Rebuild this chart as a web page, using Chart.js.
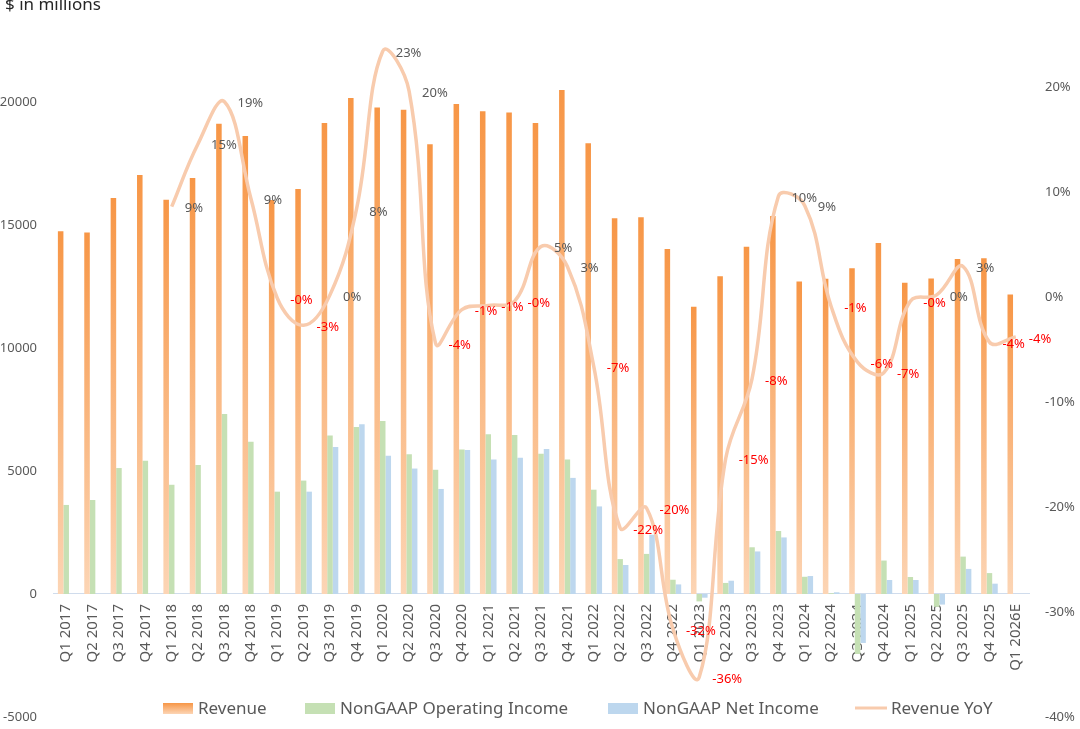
<!DOCTYPE html>
<html>
<head>
<meta charset="utf-8">
<script src="https://cdn.jsdelivr.net/npm/chart.js@4.4.1/dist/chart.umd.min.js"></script>
<style>
  html, body { margin: 0; padding: 0; background: #fff; }
  #wrap { width: 1080px; height: 729px; position: relative; }
</style>
</head>
<body>
<div id="wrap"><canvas id="chart"></canvas></div>
<script>
// 季度
const quarters = [
  'Q1 2017', 'Q2 2017', 'Q3 2017', 'Q4 2017',
  'Q1 2018', 'Q2 2018', 'Q3 2018', 'Q4 2018',
  'Q1 2019', 'Q2 2019', 'Q3 2019', 'Q4 2019',
  'Q1 2020', 'Q2 2020', 'Q3 2020', 'Q4 2020',
  'Q1 2021', 'Q2 2021', 'Q3 2021', 'Q4 2021',
  'Q1 2022', 'Q2 2022', 'Q3 2022', 'Q4 2022',
  'Q1 2023', 'Q2 2023', 'Q3 2023', 'Q4 2023',
  'Q1 2024', 'Q2 2024', 'Q3 2024', 'Q4 2024',
  'Q1 2025', 'Q2 2025', 'Q3 2025', 'Q4 2025',
  'Q1 2026E'
];

// $ in millions
const revenue = [
  14750, 14700, 16100, 17030,
  16030, 16910, 19120, 18620,
  16020, 16460, 19150, 20160,
  19780, 19680, 18280, 19920,
  19620, 19570, 19150, 20490,
  18320, 15270, 15310, 14020,
  11680, 12920, 14120, 15370,
  12700, 12810, 13240, 14270,
  12650, 12830, 13620, 13650,
  12170
];

const opIncome = [
  3620, 3820, 5120, 5420,
  4440, 5240, 7320, 6190,
  4160, 4610, 6440, 6790,
  7030, 5680, 5050, 5870,
  6490, 6460, 5700, 5470,
  4240, 1420, 1630, 580,
  -300, 450, 1900, 2560,
  700, 30, -2440, 1360,
  690, -520, 1520, 850,
  null
];

const netIncome = [
  null, null, null, null,
  null, null, null, null,
  null, 4160, 5980, 6900,
  5620, 5100, 4270, 5850,
  5470, 5540, 5890, 4720,
  3560, 1180, 2410, 390,
  -150, 540, 1730, 2300,
  730, 70, -1990, 570,
  570, -430, 1020, 420,
  null
];

// Revenue YoY, %
const revenueYoY = [
  null, null, null, null,
  8.6, 14.6, 18.6, 9.4,
  -0.1, -2.7, 0.2, 8.3,
  23.4, 19.6, -4.4, -1.2,
  -0.8, -0.4, 4.8, 2.9,
  -6.6, -22.0, -20.1, -31.6,
  -36.2, -15.4, -7.8, 9.6,
  8.7, -0.9, -6.2, -7.2,
  -0.4, 0.2, 2.9, -4.3,
  -3.8
];

const leftTicks = [-5000, 0, 5000, 10000, 15000, 20000];
const rightTicks = [-40, -30, -20, -10, 0, 10, 20];
const seriesNames = ['Revenue', 'NonGAAP Operating Income', 'NonGAAP Net Income', 'Revenue YoY'];

const ORANGE = '#F79646';
const ORANGE_LIGHT = '#FCD5B5';
const GREEN = '#C5E0B4';
const BLUE = '#BDD7EE';
const LINE = '#F8CBAD';
const GREY = '#595959';
const FONT = "'Noto Sans', 'Open Sans', sans-serif";

// 每根柱子自己的渐变
function revenueFill(context) {
  const chart = context.chart;
  if (!chart.chartArea || context.type !== 'data' || context.raw == null) return ORANGE;
  const y = chart.scales.y;
  const top = y.getPixelForValue(context.raw);
  const base = y.getPixelForValue(0);
  const g = chart.ctx.createLinearGradient(0, top, 0, base);
  g.addColorStop(0, ORANGE);
  g.addColorStop(1, ORANGE_LIGHT);
  return g;
}

function pctText(v) {
  const r = Math.round(Math.abs(v));
  return (v < 0 ? '-' : '') + r + '%';
}

// 标题、折线标签、图例
const extras = {
  id: 'extras',
  afterDatasetsDraw(chart) {
    const ctx = chart.ctx;
    const meta = chart.getDatasetMeta(3);
    ctx.save();
    ctx.font = '13px ' + FONT;
    ctx.textAlign = 'left';
    ctx.textBaseline = 'middle';
    meta.data.forEach((pt, i) => {
      const v = revenueYoY[i];
      if (v == null) return;
      ctx.fillStyle = v < 0 ? '#FF0000' : GREY;
      ctx.fillText(pctText(v), pt.x + 13, pt.y + 2);
    });
    ctx.restore();
  },
  afterDraw(chart) {
    const ctx = chart.ctx;
    ctx.save();
    // 左上角单位
    ctx.font = '17px ' + FONT;
    ctx.fillStyle = '#262626';
    ctx.textAlign = 'left';
    ctx.textBaseline = 'alphabetic';
    ctx.fillText('$ in millions', 5, 10);

    // 图例
    const boxX = [163, 305, 608, 855];
    const cy = 708;
    ctx.font = '17px ' + FONT;
    ctx.textBaseline = 'middle';
    seriesNames.forEach((name, i) => {
      const x = boxX[i];
      if (i === 0) {
        const g = ctx.createLinearGradient(0, cy - 5, 0, cy + 6);
        g.addColorStop(0, ORANGE);
        g.addColorStop(1, ORANGE_LIGHT);
        ctx.fillStyle = g;
        ctx.fillRect(x, cy - 5, 30, 11);
      } else if (i === 3) {
        ctx.strokeStyle = LINE;
        ctx.lineWidth = 3;
        ctx.beginPath();
        ctx.moveTo(x, cy);
        ctx.lineTo(x + 32, cy);
        ctx.stroke();
      } else {
        ctx.fillStyle = i === 1 ? GREEN : BLUE;
        ctx.fillRect(x, cy - 5, 30, 11);
      }
      ctx.fillStyle = GREY;
      ctx.fillText(name, x + (i === 3 ? 36 : 35), cy + 1);
    });
    ctx.restore();
  }
};

// 刻度线不画，只用它的长度留出标签间距
const hiddenGrid = { display: false, drawTicks: true, tickLength: 16, tickColor: 'rgba(0,0,0,0)' };

const chart = new Chart(document.getElementById('chart'), {
  type: 'bar',
  data: {
    labels: quarters,
    datasets: [
      {
        label: seriesNames[0],
        data: revenue,
        backgroundColor: revenueFill,
        yAxisID: 'y',
        order: 1,
        categoryPercentage: 0.63,
        barPercentage: 1.0
      },
      {
        label: seriesNames[1],
        data: opIncome,
        backgroundColor: GREEN,
        yAxisID: 'y',
        order: 1,
        categoryPercentage: 0.63,
        barPercentage: 1.0
      },
      {
        label: seriesNames[2],
        data: netIncome,
        backgroundColor: BLUE,
        yAxisID: 'y',
        order: 1,
        categoryPercentage: 0.63,
        barPercentage: 1.0
      },
      {
        type: 'line',
        label: seriesNames[3],
        data: revenueYoY,
        yAxisID: 'y1',
        borderColor: LINE,
        borderWidth: 3.5,
        tension: 0.4,
        pointRadius: 0,
        fill: false,
        order: 0
      }
    ]
  },
  options: {
    responsive: true,
    maintainAspectRatio: false,
    animation: false,
    layout: { padding: { top: 14, bottom: 12, left: 0, right: 0 } },
    plugins: {
      legend: { display: false },
      tooltip: { enabled: false }
    },
    scales: {
      x: {
        position: { y: 0 },
        offset: true,
        grid: { display: false, drawTicks: false },
        border: { display: true, color: '#D0DCEC', width: 1 },
        ticks: {
          autoSkip: false,
          minRotation: 90,
          maxRotation: 90,
          padding: 10,
          color: GREY,
          font: { family: FONT, size: 15 }
        }
      },
      y: {
        position: 'left',
        min: -5000,
        max: 23577,
        grid: hiddenGrid,
        border: { display: false },
        afterBuildTicks: scale => { scale.ticks = leftTicks.map(value => ({ value })); },
        afterFit: scale => { scale.width = 53; },
        ticks: {
          padding: 0,
          color: GREY,
          font: { family: FONT, size: 13 },
          callback: v => String(v)
        }
      },
      y1: {
        position: 'right',
        min: -40,
        max: 26.95,
        grid: hiddenGrid,
        border: { display: false },
        afterBuildTicks: scale => { scale.ticks = rightTicks.map(value => ({ value })); },
        afterFit: scale => { scale.width = 51; },
        ticks: {
          padding: 0,
          color: GREY,
          font: { family: FONT, size: 13 },
          callback: v => v + '%'
        }
      }
    }
  },
  plugins: [extras]
});
</script>
</body>
</html>
